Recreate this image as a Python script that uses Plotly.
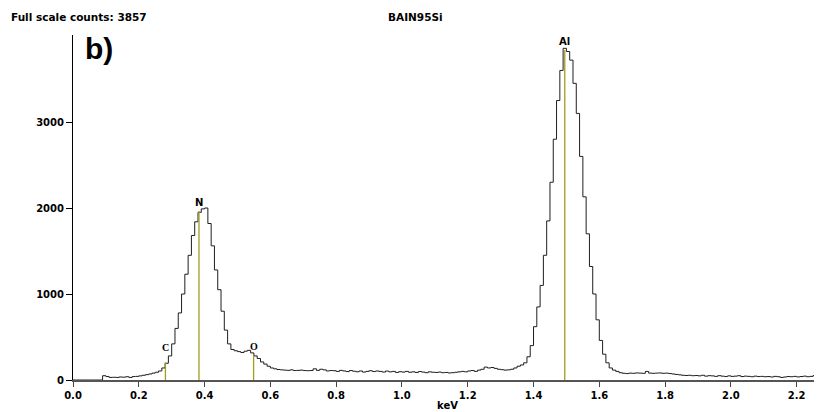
import numpy as np
import plotly.graph_objects as go

# Spectrum: 10 eV channels starting at 0.00 keV
channel_width_kev = 0.01
counts = [
    0, 0, 0, 0, 0, 0, 0, 0, 0,                      # 0.00-0.08
    50, 40, 30, 32, 30, 35, 33, 38, 30, 40, 42,     # 0.09-0.19
    48, 55, 62, 70, 80, 90, 105, 140, 195, 280,     # 0.20-0.29
    420, 600, 780, 1000, 1230, 1450, 1680, 1840, 1950, 1990,  # 0.30-0.39
    2000, 1820, 1560, 1280, 1050, 800, 580, 420, 355, 340,    # 0.40-0.49
    330, 320, 335, 345, 315, 280, 250, 210, 185, 160,         # 0.50-0.59
    140, 130, 122, 118, 115, 112, 118, 110, 112, 115,         # 0.60-0.69
    110, 108, 110, 130, 112, 125, 118, 105, 110, 108,         # 0.70-0.79
    100, 112, 105, 98, 110, 102, 96, 105, 92, 100,            # 0.80-0.89
    108, 98, 105, 100, 92, 104, 95, 100, 88, 96,              # 0.90-0.99
    92, 100, 90, 95, 88, 98, 92, 85, 95, 90,                  # 1.00-1.09
    88, 92, 85, 88, 82, 85, 90, 95, 100, 95,                  # 1.10-1.19
    105, 110, 100, 115, 125, 150, 140, 145, 135, 125,         # 1.20-1.29
    120, 115, 118, 125, 140, 160, 175, 200, 270, 400,         # 1.30-1.39
    620, 850, 1100, 1450, 1850, 2300, 2800, 3250, 3600, 3857, # 1.40-1.49
    3820, 3720, 3450, 3100, 2600, 2130, 1700, 1320, 1000, 700,  # 1.50-1.59
    460, 300, 200, 140, 115, 100, 85, 78, 75, 80,             # 1.60-1.69
    78, 82, 80, 78, 100, 80, 78, 80, 82, 78,                  # 1.70-1.79
    80, 75, 70, 65, 60, 55, 52, 55, 50, 52,                   # 1.80-1.89
    48, 55, 45, 50, 48, 42, 50, 45, 40, 48,                   # 1.90-1.99
    42, 45, 50, 40, 45, 42, 38, 45, 40, 42,                   # 2.00-2.09
    38, 40, 35, 42, 38, 30, 35, 40, 38, 42,                   # 2.10-2.19
    36, 40, 45, 38, 42, 52, 45, 40, 38,                       # 2.20-2.28
]
energies = [round(i * channel_width_kev, 2) for i in range(len(counts))]

# Element marker lines (keV)
elements = ["C", "N", "O", "Al"]
element_kev = [0.281, 0.383, 0.549, 1.495]

full_scale = 3857
title_text = "BAIN95Si"
panel_label = "b)"
x_ticks = [0.0, 0.2, 0.4, 0.6, 0.8, 1.0, 1.2, 1.4, 1.6, 1.8, 2.0, 2.2]
y_ticks = [0, 1000, 2000, 3000]

# styles
label_style = {
    "C": dict(family="Liberation Serif", yshift=8),
    "N": dict(family="DejaVu Sans", yshift=1),
    "O": dict(family="Liberation Serif", yshift=2),
    "Al": dict(family="DejaVu Sans", yshift=1),
}
marker_color = "#a39c1c"
bold_font = dict(family="DejaVu Sans", size=10, color="black", weight="bold")
header_font = dict(family="DejaVu Sans", size=10.5, color="black", weight="bold")

fig = go.Figure()

fig.add_trace(go.Scatter(
    x=energies, y=counts, mode="lines",
    line=dict(color="#1e1e1e", width=1, shape="hv"),
    hoverinfo="skip", showlegend=False,
))

marker_heights = np.interp(element_kev, energies, counts)
for el, e, h in zip(elements, element_kev, marker_heights):
    fig.add_trace(go.Scatter(
        x=[e, e], y=[0, h], mode="lines",
        line=dict(color=marker_color, width=1.3),
        hoverinfo="skip", showlegend=False,
    ))
    st = label_style[el]
    fig.add_annotation(
        x=e, y=h, text=el, showarrow=False, xanchor="center", yanchor="bottom",
        yshift=st["yshift"],
        font=dict(family=st["family"], size=10, color="black", weight="bold"),
    )

fig.add_annotation(
    xref="paper", yref="paper", x=-0.086, y=1.053, xanchor="left", yanchor="middle",
    text=f"Full scale counts: {full_scale}", showarrow=False, font=header_font,
)
fig.add_annotation(
    xref="paper", yref="paper", x=0.457, y=1.053, xanchor="center", yanchor="middle",
    text=title_text, showarrow=False, font=header_font,
)
fig.add_annotation(
    xref="paper", yref="paper", x=0.013, y=0.962, xanchor="left", yanchor="middle",
    text=panel_label, showarrow=False,
    font=dict(family="Liberation Sans", size=30, color="black", weight="bold"),
)

# page body has an 8px default margin, so the figure is 8px smaller
fig.update_layout(
    width=814, height=404,
    margin=dict(l=65, r=0, t=27, b=32),
    paper_bgcolor="white", plot_bgcolor="white",
    showlegend=False,
    xaxis=dict(
        range=[0, 2.277], tickvals=x_ticks, ticktext=[f"{v:.1f}" for v in x_ticks],
        ticks="outside", ticklen=5, tickcolor="#444", tickwidth=1,
        showline=True, linecolor="#555", linewidth=1.5,
        showgrid=False, zeroline=False, automargin=False,
        tickfont=bold_font,
        title=dict(text="keV", font=bold_font, standoff=2),
    ),
    yaxis=dict(
        range=[0, 4012], tickvals=y_ticks,
        ticks="outside", ticklen=6, tickcolor="black", tickwidth=1,
        showline=True, linecolor="black", linewidth=1,
        showgrid=False, zeroline=False, automargin=False,
        tickfont=bold_font,
    ),
)

fig.write_html("out.html")
